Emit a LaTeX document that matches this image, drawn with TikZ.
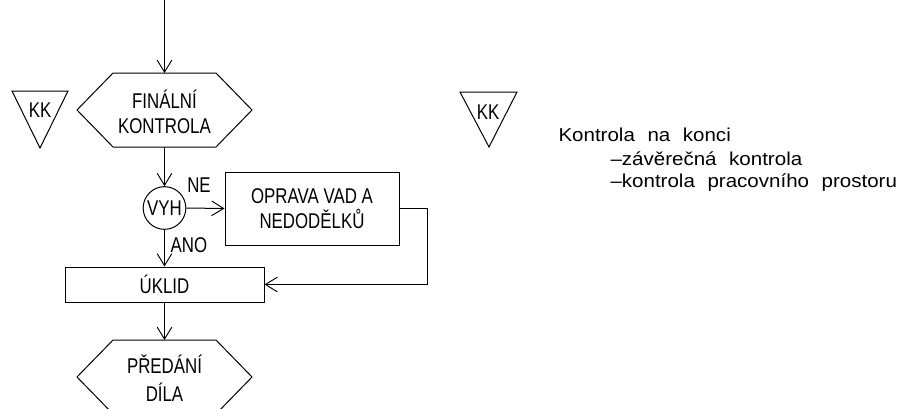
\documentclass[tikz,border=0pt]{standalone}
\usepackage{fontspec}
\setmainfont{Liberation Sans}
\newfontfamily\cadfont[FakeStretch=0.79]{Liberation Sans}
\newfontfamily\notefont[FakeStretch=1.1,WordSpace=2.2]{Liberation Sans}
\usetikzlibrary{arrows.meta}
\begin{document}
\begin{tikzpicture}[x=0.75pt,y=-0.75pt,line width=0.75pt,
  arr/.style={-{Straight Barb[length=9pt,width=11pt,line width=0.7pt]}},
  cad/.style={font=\cadfont\fontsize{16}{19}\selectfont,align=center,inner sep=0pt},
  box/.style={draw,rectangle,inner sep=0pt,font=\cadfont\fontsize{16}{19}\selectfont,align=center},
  note/.style={font=\notefont\fontsize{14}{17}\selectfont,anchor=base west,inner sep=0pt}]
\useasboundingbox (0,0) rectangle (907,408);
\fill[white] (0,0) rectangle (907,408);
\begin{scope}
\clip (0,0) rectangle (907,408);
% first hexagon
\draw (113,73) -- (216,73) -- (252,110) -- (216,147) -- (113,147) -- (77,110) -- cycle;
\node[cad] (fk) at (164.5,112) {FINÁLNÍ\\KONTROLA};
\coordinate (fktop) at (164.5,73);
\coordinate (fkbot) at (164.5,147);
% second hexagon
\draw (113,340) -- (216,340) -- (252,377) -- (216,414) -- (113,414) -- (77,377) -- cycle;
\node[cad,font=\cadfont\fontsize{16}{21}\selectfont] (pd) at (164.5,378) {PŘEDÁNÍ\\DÍLA};
\coordinate (pdtop) at (164.5,340);
\end{scope}
% KK triangles
\draw (12,91) -- (68,91) -- (40,148) -- cycle;
\node[cad] (kk1) at (40,110) {KK};
\draw (460,92) -- (517,92) -- (489,147) -- cycle;
\node[cad] (kk2) at (488,112) {KK};
% start
\coordinate (start) at (164.5,0);
\draw[arr] (start) -- (fktop);
% decision
\node[draw,circle,minimum size=32pt,inner sep=0pt,cad] (vyh) at (164.5,208) {VYH};
\draw[arr] (fkbot) -- (vyh.north);
% boxes
\node[box,minimum width=130.5pt,minimum height=54.75pt] (oprava) at (312,208.5) {OPRAVA VAD A\\NEDODĚLKŮ};
\node[box,minimum width=149.25pt,minimum height=26.25pt] (uklid) at (164.5,284.5) {ÚKLID};
\draw[arr] (vyh.east) -- (oprava.west);
\draw[arr] (oprava.east) -- ++(28,0) |- (uklid.east);
\draw[arr] (vyh.south) -- (uklid.north);
\draw[arr] (uklid.south) -- (pdtop);
% labels
\node[cad] (ne) at (199,185) {NE};
\node[cad] (ano) at (189,245) {ANO};
% notes
\node[note] (n1) at (558,141) {Kontrola na konci};
\node[note] (n2) at (610,165) {–závěrečná kontrola};
\node[note] (n3) at (610,187) {–kontrola pracovního prostoru};
\end{tikzpicture}
\end{document}
